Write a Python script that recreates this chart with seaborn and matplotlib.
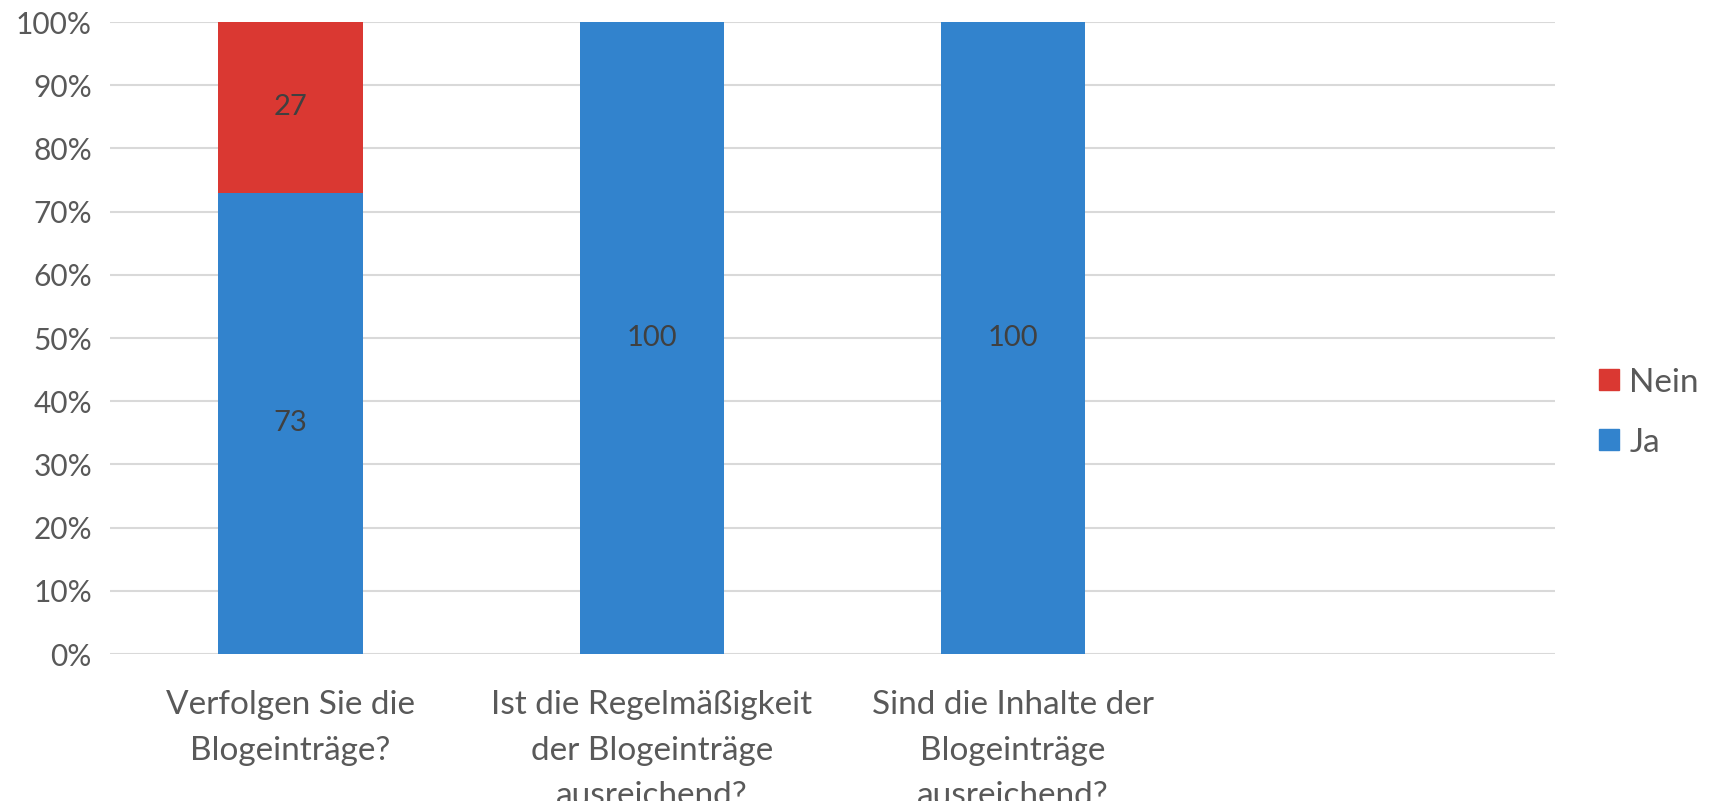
import matplotlib
matplotlib.use("Agg")
import matplotlib.pyplot as plt
import seaborn as sns
from matplotlib.patches import Patch
from matplotlib.ticker import PercentFormatter

# data
categories = ["Verfolgen Sie die\nBlogeinträge?",
              "Ist die Regelmäßigkeit\nder Blogeinträge\nausreichend?",
              "Sind die Inhalte der\nBlogeinträge\nausreichend?",
              ""]
ja = [73, 100, 100, 0]
nein = [27, 0, 0, 0]

red = "#DA3832"
blue = "#3283CD"

sns.set_style("white")
plt.rcParams["font.family"] = ["Lato", "DejaVu Sans"]

fig = plt.figure(figsize=(17.19, 8.01), dpi=100)
ax = fig.add_axes([0.064, 0.1835, 0.8406, 0.789])

total = [a + b for a, b in zip(ja, nein)]
sns.barplot(x=categories, y=total, color=red, width=0.4, saturation=1,
            linewidth=0, ax=ax, zorder=2)
sns.barplot(x=categories, y=ja, color=blue, width=0.4, saturation=1,
            linewidth=0, ax=ax, zorder=3)

# value labels
for i in range(len(categories)):
    if ja[i] > 0:
        ax.text(i, ja[i] / 2, str(ja[i]), ha="center", va="center",
                fontsize=21, color="#404040", zorder=4)
    if nein[i] > 0:
        ax.text(i, ja[i] + nein[i] / 2, str(nein[i]), ha="center", va="center",
                fontsize=21, color="#404040", zorder=4)

ax.set_ylim(0, 100)
ax.set_xlim(-0.5, len(categories) - 0.5)
ax.set_yticks(range(0, 101, 10))
ax.yaxis.set_major_formatter(PercentFormatter(decimals=0))
ax.grid(axis="y", color="#D9D9D9", linewidth=1.5, zorder=0)
ax.set_axisbelow(True)
for s in ax.spines.values():
    s.set_visible(False)

ax.tick_params(axis="y", length=0, pad=13, labelsize=21.5, labelcolor="#595959")
ax.tick_params(axis="x", length=0, pad=26, labelsize=24, labelcolor="#595959")
for lbl in ax.get_xticklabels():
    lbl.set_linespacing(1.65)

handles = [Patch(color=red, label="Nein"), Patch(color=blue, label="Ja")]
ax.legend(handles=handles, loc="center left", bbox_to_anchor=(1.01, 0.382),
          frameon=False, fontsize=24, labelcolor="#595959",
          handlelength=0.6, handleheight=0.6, handletextpad=0.3, labelspacing=0.9)

fig.savefig("out.png", dpi=100)
